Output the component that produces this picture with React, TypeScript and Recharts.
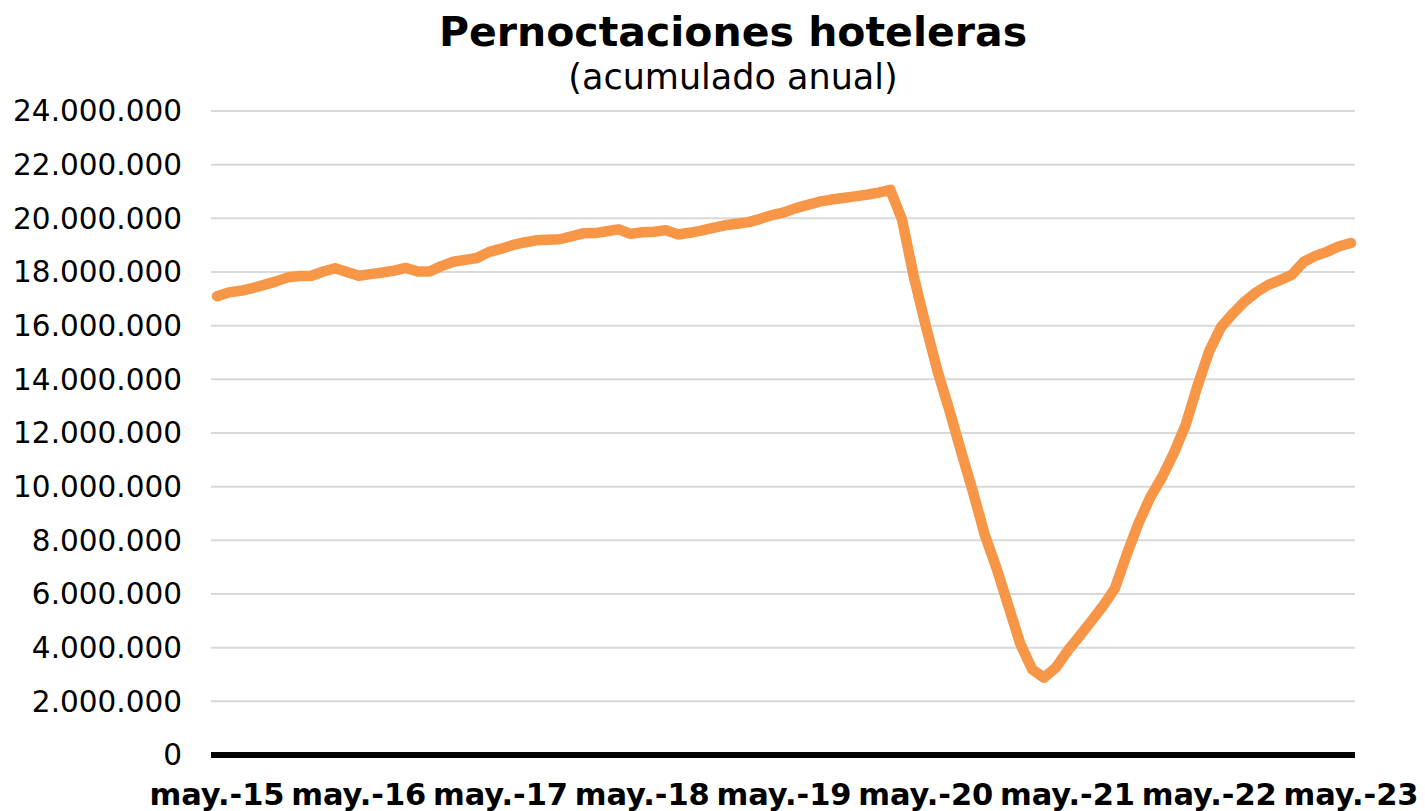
import { LineChart, Line, XAxis, YAxis, CartesianGrid } from 'recharts';

// rolling 12-month hotel overnight stays, monthly from May 2015 to May 2023
const VALUES = [
  17100000, 17240000, 17300000, 17400000, 17520000, 17650000, 17800000, 17850000, 17860000, 18020000,
  18140000, 18000000, 17860000, 17920000, 17980000, 18050000, 18150000, 18020000, 18020000, 18220000,
  18380000, 18450000, 18520000, 18740000, 18860000, 19000000, 19100000, 19180000, 19200000, 19220000,
  19330000, 19440000, 19450000, 19520000, 19590000, 19420000, 19480000, 19500000, 19560000, 19400000,
  19460000, 19540000, 19640000, 19740000, 19800000, 19860000, 19980000, 20120000, 20220000, 20380000,
  20500000, 20620000, 20700000, 20760000, 20820000, 20880000, 20960000, 21060000, 19940000, 17800000,
  16000000, 14300000, 12850000, 11300000, 9800000, 8200000, 6950000, 5550000, 4150000, 3200000,
  2880000, 3250000, 3880000, 4420000, 4980000, 5550000, 6200000, 7450000, 8620000, 9600000,
  10350000, 11250000, 12300000, 13750000, 15050000, 15950000, 16450000, 16900000, 17250000, 17520000,
  17700000, 17900000, 18380000, 18600000, 18760000, 18960000, 19080000,
];

const TICK_LABELS = [
  'may.-15', 'may.-16', 'may.-17', 'may.-18', 'may.-19',
  'may.-20', 'may.-21', 'may.-22', 'may.-23',
];

const X_TICKS = [0, 12, 24, 36, 48, 60, 72, 84, 96];

const Y_TICKS = [
  0, 2000000, 4000000, 6000000, 8000000, 10000000, 12000000,
  14000000, 16000000, 18000000, 20000000, 22000000, 24000000,
];

const FONT = '"DejaVu Sans", Verdana, sans-serif';

const fmt = (v: number) => v.toString().replace(/\B(?=(\d{3})+(?!\d))/g, '.');

export default function App() {
  const data = VALUES.map((v, i) => ({ m: i, v }));

  return (
    <div style={{ position: 'absolute', left: 0, top: 0, width: 1425, height: 811, background: '#fff' }}>
      <div
        style={{
          position: 'absolute', left: 0, top: 12, width: 1466, textAlign: 'center',
          fontFamily: FONT, fontWeight: 'bold', fontSize: 41, lineHeight: '41px', color: '#000',
        }}
      >
        Pernoctaciones hoteleras
      </div>
      <div
        style={{
          position: 'absolute', left: 0, top: 60, width: 1466, textAlign: 'center',
          fontFamily: FONT, fontSize: 35, lineHeight: '35px', color: '#000',
        }}
      >
        (acumulado anual)
      </div>
      <LineChart
        width={1425}
        height={811}
        data={data}
        margin={{ top: 111, right: 70, bottom: 6, left: 0 }}
      >
        <CartesianGrid vertical={false} stroke="#D9D9D9" strokeWidth={2} />
        <XAxis
          dataKey="m"
          type="number"
          domain={[0, 96]}
          ticks={X_TICKS}
          interval={0}
          tickFormatter={(v: number) => TICK_LABELS[v / 12]}
          padding={{ left: 6, right: 4 }}
          height={50}
          axisLine={{ stroke: '#000', strokeWidth: 6 }}
          tickLine={false}
          tickMargin={22}
          tick={{ fontSize: 30.5, fontWeight: 'bold', fill: '#000', fontFamily: FONT }}
        />
        <YAxis
          domain={[0, 24000000]}
          ticks={Y_TICKS}
          interval={0}
          width={211}
          axisLine={false}
          tickLine={false}
          tickMargin={23}
          tickFormatter={fmt}
          tick={{ fontSize: 29.5, fill: '#000', fontFamily: FONT }}
        />
        <Line
          type="linear"
          dataKey="v"
          stroke="#F79646"
          strokeWidth={10.5}
          strokeLinejoin="round"
          strokeLinecap="round"
          dot={false}
          isAnimationActive={false}
        />
      </LineChart>
    </div>
  );
}
